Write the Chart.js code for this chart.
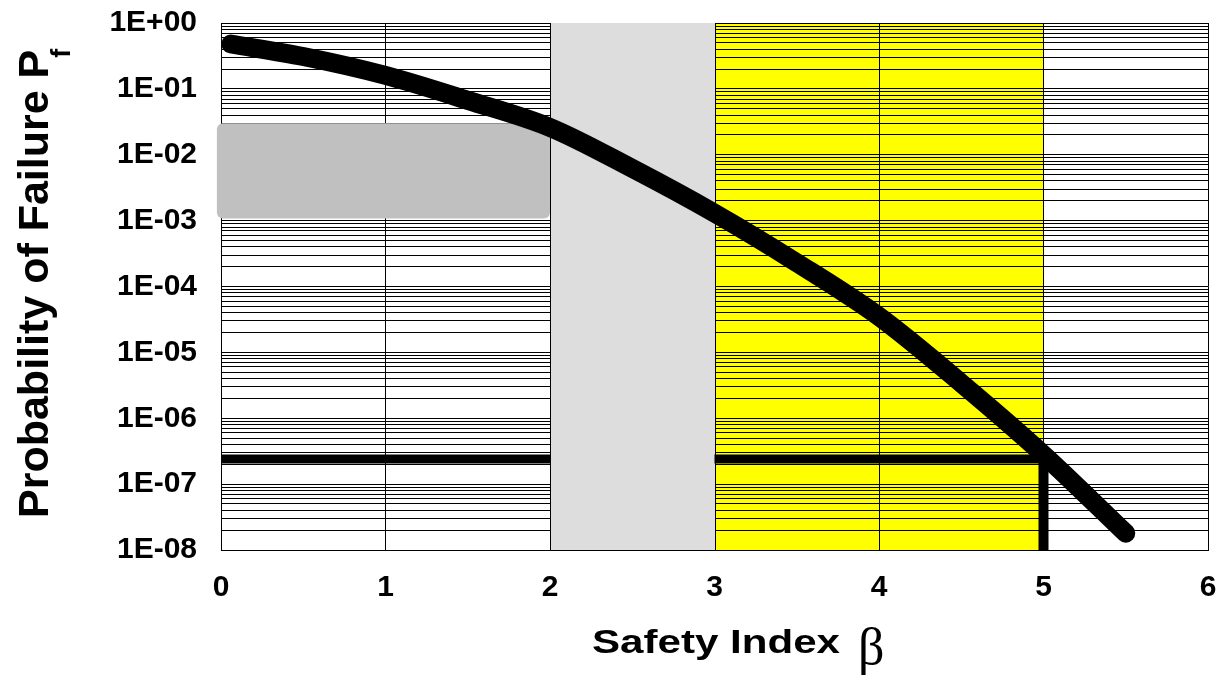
<!DOCTYPE html>
<html>
<head>
<meta charset="utf-8">
<script src="https://cdn.jsdelivr.net/npm/chart.js@4.4.0/dist/chart.umd.min.js"></script>
<style>
  html, body { margin: 0; padding: 0; background: #fff; }
  #wrap { width: 1218px; height: 676px; }
</style>
</head>
<body>
<div id="wrap"><canvas id="chart"></canvas></div>
<script>
// ── DATA ────────────────────────────────────────
const beta = [0.06, 0.5, 1, 1.5, 2, 2.5, 3, 3.5, 4, 4.5, 5, 5.5];
const pf   = [0.48, 0.31, 0.16, 0.067, 0.026, 0.0062, 0.0013, 0.00023, 3.5e-5, 3.4e-6, 2.8e-7, 1.8e-8];

// target level line (gap inside the grey band) and drop line at beta = 5
const targetBeta = [0, 2, 2.5, 3, 5];
const targetPf   = [2.4e-7, 2.4e-7, null, 2.4e-7, 2.4e-7];
const dropBeta   = [5, 5];
const dropPf     = [1e-8, 2.4e-7];

// shaded regions
const greyBand   = [2, 3];
const yellowBand = [3, 5];
const boxBeta    = [-0.025, 2];
const boxPf      = [3e-2, 1.08e-3];

// ticks
const xTicks     = [0, 1, 2, 3, 4, 5, 6];
const decades    = [1e-8, 1e-7, 1e-6, 1e-5, 1e-4, 1e-3, 1e-2, 1e-1, 1e0];
const decadeTxt  = ['1E-08', '1E-07', '1E-06', '1E-05', '1E-04', '1E-03', '1E-02', '1E-01', '1E+00'];
const minorMult  = [2, 3, 4, 5, 6, 7, 8, 9];

const FONT = '"Liberation Sans", Arial, sans-serif';

const toXY = (xs, ys) => xs.map((x, i) => ({ x, y: ys[i] }));

// ── REGIONS + AXIS TITLES ───────────────────────
const regions = {
  id: 'regions',
  beforeDraw(chart) {
    const { ctx, chartArea: a, scales: { x } } = chart;
    ctx.save();
    ctx.fillStyle = '#ffff00';
    const x0 = x.getPixelForValue(yellowBand[0]), x1 = x.getPixelForValue(yellowBand[1]);
    ctx.fillRect(x0, a.top, x1 - x0, a.bottom - a.top);
    ctx.restore();
  },
  beforeDatasetsDraw(chart) {
    const { ctx, chartArea: a, scales: { x, y } } = chart;
    ctx.save();
    // light grey band, covers grid
    const g0 = Math.round(x.getPixelForValue(greyBand[0])) + 0.5;
    const g1 = Math.round(x.getPixelForValue(greyBand[1])) + 0.5;
    ctx.fillStyle = '#dddddd';
    ctx.fillRect(g0, a.top, g1 - g0, a.bottom - a.top);
    ctx.strokeStyle = '#000';
    ctx.lineWidth = 1;
    ctx.beginPath();
    ctx.moveTo(g0, a.top); ctx.lineTo(g0, a.bottom);
    ctx.moveTo(g1, a.top); ctx.lineTo(g1, a.bottom);
    ctx.stroke();
    // darker grey box
    const bx0 = x.getPixelForValue(boxBeta[0]), bx1 = x.getPixelForValue(boxBeta[1]);
    const by0 = y.getPixelForValue(boxPf[0]),   by1 = y.getPixelForValue(boxPf[1]);
    ctx.fillStyle = '#c0c0c0';
    ctx.beginPath();
    ctx.roundRect(bx0, by0, bx1 - bx0, by1 - by0, 6);
    ctx.fill();
    ctx.restore();
  },
  afterDraw(chart) {
    const { ctx } = chart;
    ctx.save();
    ctx.fillStyle = '#000';
    // x title
    ctx.font = 'bold 34px ' + FONT;
    ctx.textBaseline = 'alphabetic';
    ctx.textAlign = 'left';
    const w = ctx.measureText('Safety Index').width;
    ctx.save();
    ctx.translate(592, 653);
    ctx.scale(248 / w, 1);
    ctx.fillText('Safety Index', 0, 0);
    ctx.restore();
    ctx.font = '52px "Liberation Serif", "Times New Roman", serif';
    ctx.fillText('β', 858, 664);
    // y title with subscript
    ctx.save();
    ctx.translate(48, 518);
    ctx.rotate(-Math.PI / 2);
    ctx.font = 'bold 43px ' + FONT;
    const t = 'Probability of Failure P';
    ctx.fillText(t, 0, 0);
    const tw = ctx.measureText(t).width;
    ctx.font = 'bold 27px ' + FONT;
    ctx.fillText('f', tw - 8, 22);
    ctx.restore();
    ctx.restore();
  }
};

// ── CHART ───────────────────────────────────────
new Chart(document.getElementById('chart'), {
  type: 'line',
  data: {
    datasets: [
      {
        data: toXY(beta, pf),
        borderColor: '#000',
        borderWidth: 19,
        borderCapStyle: 'round',
        borderJoinStyle: 'round',
        pointRadius: 0,
        cubicInterpolationMode: 'monotone',
        fill: false
      },
      {
        data: toXY(targetBeta, targetPf),
        borderColor: '#000',
        borderWidth: 9,
        borderCapStyle: 'butt',
        pointRadius: 0,
        spanGaps: false,
        fill: false
      },
      {
        data: toXY(dropBeta, dropPf),
        borderColor: '#000',
        borderWidth: 10,
        borderCapStyle: 'round',
        pointRadius: 0,
        fill: false
      }
    ]
  },
  options: {
    responsive: true,
    maintainAspectRatio: false,
    animation: false,
    layout: { padding: { left: 0, right: 10, top: 23, bottom: 0 } },
    plugins: { legend: { display: false }, tooltip: { enabled: false } },
    scales: {
      x: {
        type: 'linear',
        min: 0, max: 6,
        afterBuildTicks: s => { s.ticks = xTicks.map(v => ({ value: v })); },
        afterFit: s => { s.height = 126; s.paddingLeft = 0; s.paddingRight = 0; },
        ticks: { color: '#000', font: { family: FONT, size: 30, weight: 'bold' }, padding: 20 },
        grid: { color: '#000', lineWidth: 1, drawTicks: false },
        border: { color: '#000', width: 1 }
      },
      y: {
        type: 'logarithmic',
        min: 1e-8, max: 1,
        afterBuildTicks: s => {
          const vals = [];
          decades.forEach((d, i) => {
            vals.push(d);
            if (i < decades.length - 1) minorMult.forEach(m => vals.push(m * d));
          });
          s.ticks = vals.map(v => ({ value: v }));
        },
        afterFit: s => { s.width = 221; s.paddingTop = 0; s.paddingBottom = 0; },
        ticks: {
          autoSkip: false,
          color: '#000',
          padding: 24,
          font: { family: FONT, size: 30, weight: 'bold' },
          callback: v => {
            const i = decades.findIndex(d => Math.abs(d - v) / d < 1e-6);
            return i >= 0 ? decadeTxt[i] : '';
          }
        },
        grid: { color: '#000', lineWidth: 1, drawTicks: false },
        border: { color: '#000', width: 1 }
      }
    }
  },
  plugins: [regions]
});
</script>
</body>
</html>
